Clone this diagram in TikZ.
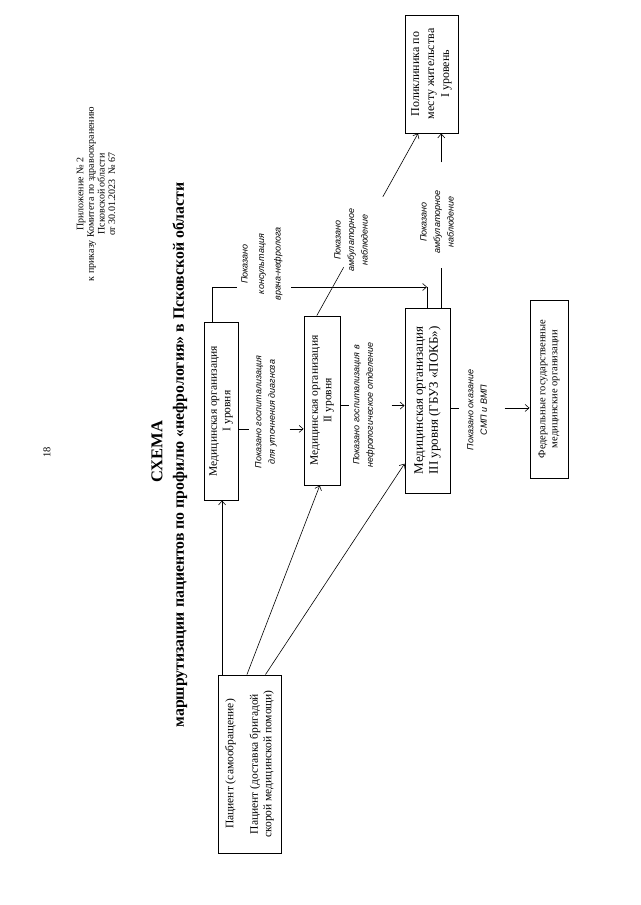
\documentclass[tikz,border=0pt]{standalone}
\usepackage{fontspec}
\setmainfont{Liberation Serif}
\newfontfamily\lblfont{Liberation Sans}
\usetikzlibrary{calc,arrows.meta}
\begin{document}
\begin{tikzpicture}[x=1pt,y=1pt,
  box/.style={draw,line width=0.9pt,rotate=90,align=center,inner sep=0pt,font=\fontsize{11.5}{13.5}\selectfont},
  lbl/.style={rotate=90,align=center,inner sep=0pt,font=\lblfont\itshape\fontsize{9}{13.5}\selectfont},
  ln/.style={line width=0.6pt},
  arr/.style={ln,-{Straight Barb[length=4pt,width=7pt]}}]
\useasboundingbox (0,0) rectangle (640,-905);
\fill[white] (0,0) rectangle (640,-905);
% header texts
\node[rotate=90,align=center,font=\fontsize{10}{10.6}\selectfont] (hdr) at (96,-194) {Приложение № 2\\к приказу Комитета по здравоохранению\\Псковской области\\от 30.01.2023~~№ 67};
\node[rotate=90,font=\fontsize{10.5}{12}\selectfont] (pg) at (47,-452) {18};
\node[rotate=90,font=\bfseries\fontsize{16.5}{18}\selectfont] (t1) at (157,-452) {СХЕМА};
\node[rotate=90,font=\bfseries\fontsize{15.8}{18}\selectfont] (t2) at (180,-455) {маршрутизации пациентов по профилю «нефрология» в Псковской области};
% boxes
\node[box,minimum width=178,minimum height=63] (P) at (249.5,-764) {Пациент (самообращение)\\[11pt]Пациент (доставка бригадой\\скорой медицинской помощи)};
\node[box,minimum width=178,minimum height=34] (L1) at (221,-411) {Медицинская организация\\I уровня};
\node[box,minimum width=169,minimum height=36] (L2) at (322,-400.5) {Медицинская организация\\II уровня};
\node[box,minimum width=185,minimum height=45,font=\fontsize{13}{15}\selectfont] (L3) at (427.5,-400.5) {Медицинская организация\\III уровня (ГБУЗ «ПОКБ»)};
\node[box,minimum width=178,minimum height=38,font=\fontsize{10.5}{12}\selectfont] (F) at (549,-389) {Федеральные государственные\\медицинские организации};
\node[box,minimum width=118,minimum height=53,font=\fontsize{12}{15}\selectfont] (Poly) at (431.5,-74) {Поликлиника по\\месту жительства\\I уровень};
% labels
\node[lbl,font=\lblfont\itshape\fontsize{9}{16.5}\selectfont] (lc) at (262,-264) {Показано\\консультация\\врача-нефролога};
\node[lbl] (lg1) at (266,-412) {Показано госпитализация\\для уточнения диагноза};
\node[lbl] (lg2) at (364,-405) {Показано госпитализация в\\нефрологическое отделение};
\node[lbl] (lo) at (477,-410) {Показано оказание\\СМП и ВМП};
\node[lbl] (la1) at (351,-240) {Показано\\амбулаторное\\наблюдение};
\node[lbl] (la2) at (437,-222) {Показано\\амбулаторное\\наблюдение};
% connectors from patient
\coordinate (p1) at ($(L1.north west)!0.53!(L1.south west)$);
\draw[arr] (p1 |- P.east) -- (p1);
\draw[arr] ($(P.north east)!0.46!(P.south east)$) -- ($(L2.north west)!0.44!(L2.south west)$);
\draw[arr] ($(P.north east)!0.75!(P.south east)$) -- ($(L3.north west)!0.16!(L3.north east)$);
% consultation line L1 -> L3
\coordinate (q1) at ($(L1.north east)!0.26!(L1.south east)$);
\coordinate (k1) at (237,-287);
\coordinate (k2) at (291,-287);
\coordinate (q3) at ($(L3.north east)!0.49!(L3.south east)$);
\draw[ln] (q1) |- (k1);
\draw[arr] (k2) -- (q3 |- k2);
\draw[ln] (q3 |- k2) -- (q3);
% L2 -> polyclinic
\coordinate (r1) at ($(L2.north east)!0.36!(L2.south east)$);
\coordinate (r4) at ($(Poly.north west)!0.25!(Poly.south west)$);
\coordinate (r2) at ($(r1)!0.265!(r4)$);
\coordinate (r3) at ($(r1)!0.652!(r4)$);
\draw[ln] (r1) -- (r2);
\draw[arr] (r3) -- (r4);
% L3 -> polyclinic
\coordinate (s1) at ($(L3.north east)!0.8!(L3.south east)$);
\coordinate (s4) at (s1 |- Poly.west);
\coordinate (s2) at ($(s1)+(0,40)$);
\coordinate (s3) at ($(s4)+(0,-29)$);
\draw[ln] (s1) -- (s2);
\draw[arr] (s3) -- (s4);
% horizontal level links
\coordinate (t1a) at ($(L1.south west)!0.40!(L1.south east)$);
\draw[ln] (t1a) -- ++(11,0);
\draw[arr] ($(t1a -| L2.north)+(-14,0)$) -- (t1a -| L2.north);
\coordinate (u1) at ($(L2.south west)!0.47!(L2.south east)$);
\draw[ln] (u1) -- ++(9,0);
\draw[arr] ($(u1 -| L3.north)+(-13,0)$) -- (u1 -| L3.north);
\coordinate (v1) at ($(L3.south west)!0.46!(L3.south east)$);
\draw[ln] (v1) -- ++(9,0);
\draw[arr] ($(v1 -| F.north)+(-25,0)$) -- (v1 -| F.north);
\end{tikzpicture}
\end{document}
